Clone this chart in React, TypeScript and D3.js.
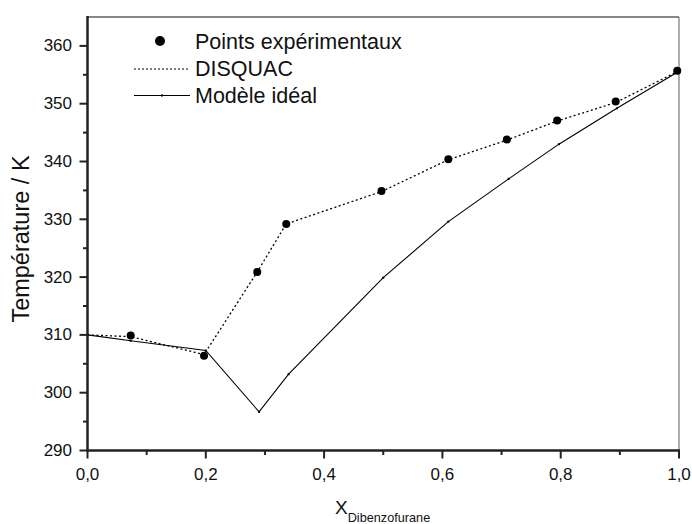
import React from "react";
import * as d3 from "d3";

// experimental points
const expX = [0.073, 0.197, 0.287, 0.336, 0.497, 0.61, 0.709, 0.794, 0.893, 0.997];
const expT = [309.9, 306.4, 320.9, 329.2, 334.9, 340.4, 343.8, 347.1, 350.4, 355.7];

// DISQUAC curve
const disqX = [0, 0.073, 0.197, 0.287, 0.336, 0.497, 0.61, 0.709, 0.794, 0.893, 1.0];
const disqT = [310.0, 309.7, 306.6, 320.9, 329.2, 334.8, 340.3, 343.7, 347.0, 350.2, 355.7];

// ideal model
const idealX = [0, 0.073, 0.2, 0.29, 0.34, 0.5, 0.61, 0.712, 0.797, 0.895, 1.0];
const idealT = [310.0, 309.0, 307.3, 296.7, 303.2, 319.9, 329.6, 337.0, 343.0, 349.2, 355.6];

const xMajor = [0, 0.2, 0.4, 0.6, 0.8, 1.0];
const xMinor = [0.1, 0.3, 0.5, 0.7, 0.9];
const yMajor = [290, 300, 310, 320, 330, 340, 350, 360];
const yMinor = [295, 305, 315, 325, 335, 345, 355];

const legendLabels = ["Points expérimentaux", "DISQUAC", "Modèle idéal"];

const W = 692;
const H = 524;
const font = "'Liberation Sans', Arial, Helvetica, sans-serif";

export default function App() {
  const x = d3.scaleLinear().domain([0, 1]).range([87.5, 679]);
  const y = d3.scaleLinear().domain([290, 365]).range([450.5, 17]);

  const line = d3
    .line<[number, number]>()
    .x((d) => x(d[0]))
    .y((d) => y(d[1]));

  const disq = disqX.map((v, i) => [v, disqT[i]] as [number, number]);
  const ideal = idealX.map((v, i) => [v, idealT[i]] as [number, number]);
  const fmt = (v: number) => v.toFixed(1).replace(".", ",");

  const x0 = x(0);
  const x1 = x(1);
  const yTop = y(365);
  const yBot = y(290);

  return (
    <svg
      width={W}
      height={H}
      style={{ position: "absolute", left: 0, top: 0, background: "white" }}
      fontFamily={font}
    >
      {/* frame */}
      <line x1={x0} x2={x1} y1={yTop} y2={yTop} stroke="#111" strokeWidth={1.2} />
      <line x1={x1} x2={x1} y1={yTop} y2={yBot} stroke="#777" strokeWidth={1.2} />

      {/* curves */}
      <path d={line(ideal) || ""} fill="none" stroke="#000" strokeWidth={1.1} />
      {ideal.map((d, i) => (
        <rect key={"im" + i} x={x(d[0]) - 1} y={y(d[1]) - 1} width={2} height={2} fill="#000" />
      ))}
      <path
        d={line(disq) || ""}
        fill="none"
        stroke="#000"
        strokeWidth={1.3}
        strokeDasharray="2,2.5"
      />
      {expX.map((v, i) => (
        <circle key={"p" + i} cx={x(v)} cy={y(expT[i])} r={4} fill="#000" />
      ))}

      {/* axes */}
      <line x1={x0} x2={x1 + 1} y1={yBot} y2={yBot} stroke="#222" strokeWidth={2.5} />
      <line x1={x0} x2={x0} y1={yTop - 1} y2={yBot + 1} stroke="#222" strokeWidth={2.5} />
      {xMajor.map((v) => (
        <g key={"xm" + v}>
          <line x1={x(v)} x2={x(v)} y1={yBot} y2={yBot + 8} stroke="#222" strokeWidth={2} />
          <text x={x(v)} y={480} fontSize={17} textAnchor="middle" fill="#111">
            {fmt(v)}
          </text>
        </g>
      ))}
      {xMinor.map((v) => (
        <line key={"xn" + v} x1={x(v)} x2={x(v)} y1={yBot} y2={yBot + 4.5} stroke="#222" strokeWidth={2} />
      ))}
      {yMajor.map((v) => (
        <g key={"ym" + v}>
          <line x1={x0 - 8} x2={x0} y1={y(v)} y2={y(v)} stroke="#222" strokeWidth={2} />
          <text x={72} y={y(v) + 5.5} fontSize={17} textAnchor="end" fill="#111">
            {v}
          </text>
        </g>
      ))}
      {yMinor.map((v) => (
        <line key={"yn" + v} x1={x0 - 4.5} x2={x0} y1={y(v)} y2={y(v)} stroke="#222" strokeWidth={2} />
      ))}

      {/* axis titles */}
      <text
        transform="translate(29,239) rotate(-90)"
        fontSize={23.5}
        textAnchor="middle"
        fill="#111"
      >
        Température / K
      </text>
      <text x={335} y={514} fontSize={19} fill="#111">
        X
        <tspan fontSize={12.7} dy={8}>
          Dibenzofurane
        </tspan>
      </text>

      {/* legend */}
      <circle cx={160} cy={41} r={5} fill="#000" />
      <line x1={134} x2={190} y1={69} y2={69} stroke="#000" strokeWidth={1.2} strokeDasharray="2,2" />
      <line x1={134} x2={190} y1={95.5} y2={95.5} stroke="#000" strokeWidth={1.1} />
      <rect x={161} y={94.5} width={2} height={2} fill="#000" />
      {legendLabels.map((t, i) => (
        <text key={t} x={195} y={49 + i * 27} fontSize={21.5} fill="#111">
          {t}
        </text>
      ))}
    </svg>
  );
}
